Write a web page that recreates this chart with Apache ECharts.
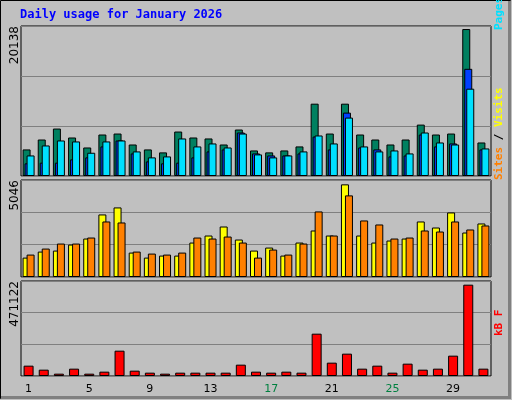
<!DOCTYPE html>
<html><head><meta charset="utf-8">
<script src="https://cdn.jsdelivr.net/npm/echarts@6/dist/echarts.min.js"></script>
<style>html,body{margin:0;padding:0;background:#c0c0c0}#c{width:512px;height:400px}</style>
</head><body><div id="c"></div><script>
const days = Array.from({length:31},(_,i)=>String(i+1));
const weekends = ['3','4','10','11','17','18','24','25','31'];
const hits  = [3567,4900,6370,5170,3830,5570,5700,4230,3567,3170,5970,5170,5040,4230,6240,3430,3170,3430,3970,9710,5700,9710,5570,4900,4230,4900,6900,5570,5700,19730,4500];
const files = [1700,1790,1790,2230,2500,3970,4770,3030,1960,1700,1790,2500,3300,3567,5840,3030,2760,2760,3030,5300,3567,8510,3830,3567,2630,2760,5570,3970,4370,14390,3567];
const pages = [2760,4100,4770,4640,3120,4640,4770,3300,2500,2630,5040,3970,4370,3830,5700,2900,2500,2760,3300,5440,4370,7840,3970,3300,3430,3030,5840,4500,4230,11720,3700];
const sites = [1009,1322,1375,1688,2001,3254,3619,1270,1009,1114,1114,1792,2158,2627,1949,1375,1531,1114,1792,2419,2158,4820,2158,1792,1897,2001,2888,2575,3358,2314,2784];
const visits= [1166,1479,1740,1740,2053,2888,2836,1322,1218,1166,1270,2053,2001,2105,1792,1009,1427,1166,1740,3410,2158,4246,2941,2732,2001,2053,2419,2366,2888,2471,2680];
const kbytes= [51240,31400,11570,36370,11570,21490,125600,26450,16530,11570,16530,16530,16530,16530,56200,21490,16530,21490,16530,209900,66120,110750,36370,51240,16530,61160,31400,36370,100830,452900,36370];
const maxLabels = ['20138','5046','471122'];
const maxVals = [20138,5046,471122];

const chart = echarts.init(document.getElementById('c'),null,{renderer:'canvas'});
const mono = 'DejaVu Sans Mono';
const grids = [
  {left:21,top:26,width:470,height:150},
  {left:21,top:180,width:470,height:97},
  {left:21,top:281,width:470,height:95}
].map(g=>Object.assign(g,{show:true,backgroundColor:'#c0c0c0',borderColor:'#000',borderWidth:1}));
const xAxes = [0,1,2].map(i=>({type:'category',gridIndex:i,data:days,
  axisLine:{show:false},axisTick:{show:false},
  axisLabel:i===2?{show:true,margin:8,fontFamily:'DejaVu Sans',fontSize:11,
    formatter:v=>weekends.includes(v)?'{w|'+v+'}':'{n|'+v+'}',
    rich:{w:{color:'#008040',fontFamily:'DejaVu Sans',fontSize:11},n:{color:'#000',fontFamily:'DejaVu Sans',fontSize:11}}}:{show:false}}));
const yAxes = [0,1,2].map(i=>({type:'value',gridIndex:i,min:0,max:maxVals[i],interval:maxVals[i]/3,
  axisLabel:{show:false},axisLine:{show:false},axisTick:{show:false},
  splitLine:{show:true,lineStyle:{color:'#808080',width:1}}}));
const bs = {borderColor:'#000',borderWidth:1};
const series = [
  {type:'bar',xAxisIndex:0,yAxisIndex:0,data:hits,barWidth:8,barGap:'-75%',itemStyle:Object.assign({color:'#008060'},bs)},
  {type:'bar',xAxisIndex:0,yAxisIndex:0,data:files,barWidth:8,barGap:'-75%',itemStyle:Object.assign({color:'#0040ff'},bs)},
  {type:'bar',xAxisIndex:0,yAxisIndex:0,data:pages,barWidth:8,barGap:'-75%',itemStyle:Object.assign({color:'#00e0ff'},bs)},
  {type:'bar',xAxisIndex:1,yAxisIndex:1,data:sites,barWidth:8,barGap:'-50%',itemStyle:Object.assign({color:'#ffff00'},bs)},
  {type:'bar',xAxisIndex:1,yAxisIndex:1,data:visits,barWidth:8,barGap:'-50%',itemStyle:Object.assign({color:'#ff8000'},bs)},
  {type:'bar',xAxisIndex:2,yAxisIndex:2,data:kbytes,barWidth:10,itemStyle:Object.assign({color:'#ff0000'},bs)}
];
const rot = Math.PI/2;
const yLab = (txt,x,y)=>({type:'text',x:x,y:y,rotation:rot,style:{text:txt,fill:'#000',font:'12px DejaVu Sans',align:'right',verticalAlign:'middle'}});
const rLab = (rich,txt,y)=>({type:'text',x:499,y:y,rotation:rot,style:{text:txt,rich:rich,font:'bold 11px '+mono,align:'left',verticalAlign:'middle'}});
chart.setOption({
  animation:false,backgroundColor:'#c0c0c0',
  grid:grids,xAxis:xAxes,yAxis:yAxes,series:series,
  graphic:[
    {type:'rect',shape:{x:0.5,y:0.5,width:510,height:398},style:{fill:'none',stroke:'#000',lineWidth:1},z:-1},
    {type:'rect',shape:{x:508,y:1,width:3,height:398},style:{fill:'#808080'}},
    {type:'rect',shape:{x:1,y:396,width:510,height:3},style:{fill:'#808080'}},
    {type:'text',x:20,y:9,style:{text:'Daily usage for January 2026',fill:'#0000ff',font:'bold 12px '+mono}},
    yLab(maxLabels[0],15,26),yLab(maxLabels[1],15,180),yLab(maxLabels[2],15,281),
    rLab({p:{fill:'#00e0ff',font:'bold 11px '+mono},s:{fill:'#000',font:'bold 11px '+mono},f:{fill:'#0040ff',font:'bold 11px '+mono},h:{fill:'#008060',font:'bold 11px '+mono}},
      '{p|Pages}{s| / }{f|Files}{s| / }{h|Hits}',30),
    rLab({v:{fill:'#ff8000',font:'bold 11px '+mono},s:{fill:'#000',font:'bold 11px '+mono},t:{fill:'#ffff00',font:'bold 11px '+mono}},
      '{v|Sites}{s| / }{t|Visits}',180),
    rLab({k:{fill:'#ff0000',font:'bold 11px '+mono}},'{k|kB F}',336)
  ]
});
</script></body></html>
